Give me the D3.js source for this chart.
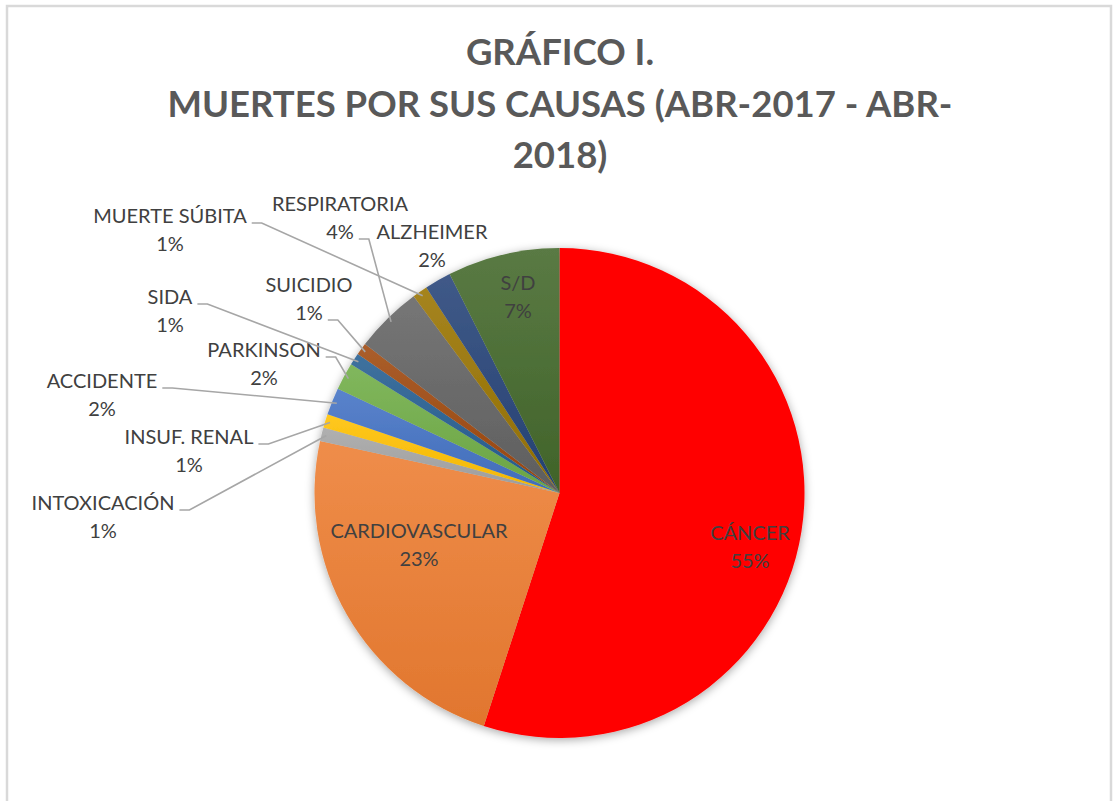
<!DOCTYPE html>
<html lang="es">
<head>
	<meta charset="utf-8">
	<title>Gráfico I. Muertes por sus causas</title>
	<script src="https://d3js.org/d3.v7.min.js"></script>
	<style>
		body { margin: 0; background: #fff; }
		svg { display: block; font-family: "Lato", "Open Sans", sans-serif; }
		.title { font-weight: 700; fill: #595959; }
		.label { fill: #404040; }
	</style>
</head>
<body>
	<div id="chart"></div>
	<script>
		// Data
		const causes = ["CÁNCER", "CARDIOVASCULAR", "INTOXICACIÓN", "INSUF. RENAL", "ACCIDENTE", "PARKINSON",
			"SIDA", "SUICIDIO", "RESPIRATORIA", "MUERTE SÚBITA", "ALZHEIMER", "S/D"];
		const shares = [55.0, 23.4, 0.9, 0.9, 1.8, 1.8, 0.8, 0.8, 4.45, 1.0, 1.75, 7.4];
		const colors = ["#ff0000", "#ed7d31", "#a5a5a5", "#ffc000", "#4472c4", "#70ad47",
			"#255e91", "#9e480e", "#636363", "#997300", "#264478", "#43682b"];
		const titleLines = ["GRÁFICO I.", "MUERTES POR SUS CAUSAS (ABR-2017 - ABR-", "2018)"];

		const data = causes.map((c, i) => ({ cause: c, value: shares[i], color: colors[i] }));

		// Label layout (centre of first line); lead = line the leader line starts from
		const labelLayout = {
			"CÁNCER": { x: 750, y: 533 },
			"CARDIOVASCULAR": { x: 419, y: 531 },
			"INTOXICACIÓN": { x: 103, y: 503, lead: 0 },
			"INSUF. RENAL": { x: 189, y: 437, lead: 0 },
			"ACCIDENTE": { x: 102, y: 381, lead: 0 },
			"PARKINSON": { x: 264, y: 350, lead: 0 },
			"SIDA": { x: 170, y: 297, lead: 0 },
			"SUICIDIO": { x: 309, y: 285, lead: 1 },
			"RESPIRATORIA": { x: 340, y: 204, lead: 1 },
			"MUERTE SÚBITA": { x: 170, y: 216, lead: 0 },
			"ALZHEIMER": { x: 432, y: 232 },
			"S/D": { x: 518, y: 283 }
		};

		// Chart dimensions
		const width = 1113;
		const height = 801;
		const cx = 559.5;
		const cy = 493;
		const radius = 245;
		const lineGap = 28;

		const svg = d3.select("#chart")
			.append("svg")
			.attr("width", width)
			.attr("height", height);

		const defs = svg.append("defs");

		const shadow = defs.append("filter")
			.attr("id", "shadow")
			.attr("x", "-20%").attr("y", "-20%")
			.attr("width", "140%").attr("height", "140%");
		shadow.append("feDropShadow")
			.attr("dx", 0).attr("dy", 2)
			.attr("stdDeviation", 5)
			.attr("flood-color", "#000")
			.attr("flood-opacity", 0.35);

		data.forEach((d, i) => {
			const g = defs.append("linearGradient")
				.attr("id", `grad${i}`)
				.attr("x1", 0).attr("y1", 0).attr("x2", 0).attr("y2", 1);
			const top = i === 0 ? d.color : d3.interpolateRgb(d.color, "#fff")(0.12);
			const bottom = i === 0 ? d.color : d3.color(d.color).darker(0.15);
			g.append("stop").attr("offset", "0%").attr("stop-color", top);
			g.append("stop").attr("offset", "100%").attr("stop-color", bottom);
		});

		// Frame
		svg.append("rect")
			.attr("x", 7).attr("y", 6)
			.attr("width", 1104).attr("height", 810)
			.attr("fill", "#fff")
			.attr("stroke", "#d9d9d9")
			.attr("stroke-width", 2.5);

		// Title
		svg.append("text")
			.attr("class", "title")
			.attr("text-anchor", "middle")
			.attr("font-size", 36.5)
			.selectAll("tspan")
			.data(titleLines)
			.join("tspan")
			.attr("x", 560)
			.attr("y", (d, i) => 65 + i * 51.5)
			.text(d => d);

		// Pie
		const pie = d3.pie()
			.sort(null)
			.value(d => d.value);

		const arcs = pie(data);
		const total = d3.sum(shares);

		const arc = d3.arc()
			.innerRadius(0)
			.outerRadius(radius);

		const edge = d3.arc()
			.innerRadius(radius * 0.98)
			.outerRadius(radius * 0.98);

		const bounds = svg.append("g")
			.attr("transform", `translate(${cx},${cy})`);

		bounds.append("g")
			.attr("filter", "url(#shadow)")
			.selectAll("path")
			.data(arcs)
			.join("path")
			.attr("d", arc)
			.attr("fill", (d, i) => `url(#grad${i})`);

		// Labels
		const labels = svg.append("g")
			.attr("class", "label")
			.attr("font-size", 20);

		arcs.forEach(a => {
			const pos = labelLayout[a.data.cause];
			const pct = Math.round(a.data.value / total * 100) + "%";
			const lines = [a.data.cause, pct];

			const text = labels.append("text")
				.attr("text-anchor", "middle");
			const spans = text.selectAll("tspan")
				.data(lines)
				.join("tspan")
				.attr("x", pos.x)
				.attr("y", (d, i) => pos.y + i * lineGap)
				.attr("dy", "0.36em")
				.text(d => d);

			if (pos.lead !== undefined) {
				const w = spans.nodes()[pos.lead].getComputedTextLength();
				const x0 = pos.x + w / 2 + 5;
				const y0 = pos.y + pos.lead * lineGap + 7;
				const [ex, ey] = edge.centroid(a);
				labels.append("polyline")
					.attr("points", [[x0, y0], [x0 + 10, y0], [cx + ex, cy + ey]].map(p => p.join(",")).join(" "))
					.attr("fill", "none")
					.attr("stroke", "#a6a6a6")
					.attr("stroke-width", 1.6);
			}
		});
	</script>
</body>
</html>
